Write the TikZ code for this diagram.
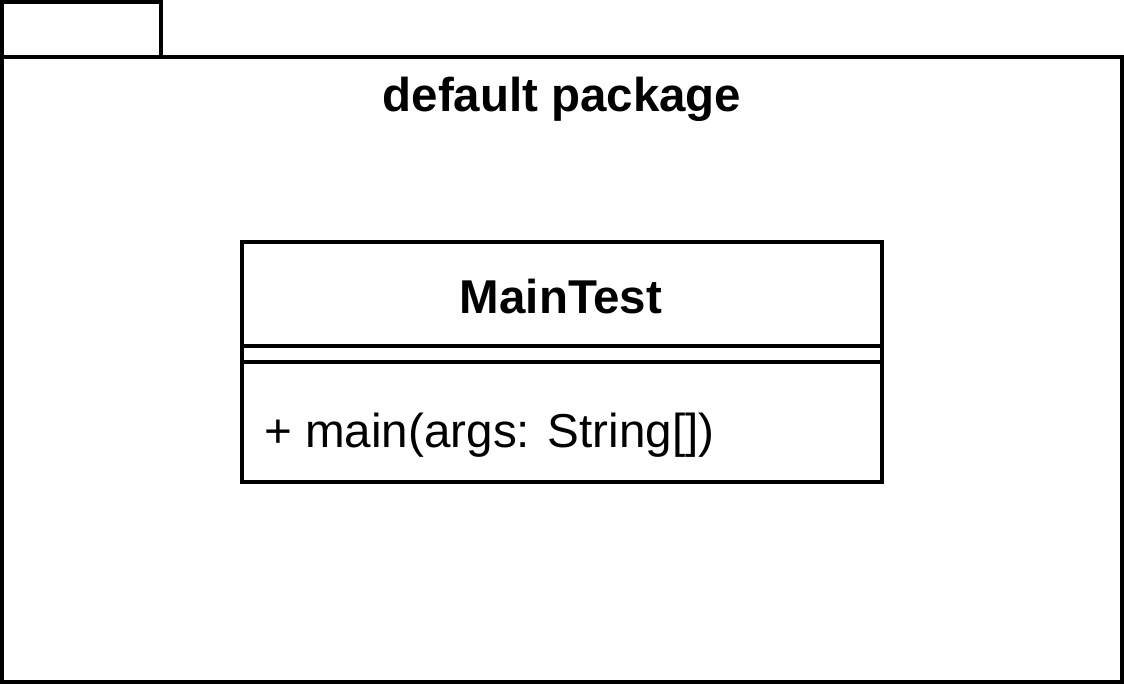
\documentclass[tikz,border=0pt]{standalone}
\usepackage{fontspec}
\setmainfont{Liberation Sans}
\begin{document}
\begin{tikzpicture}[x=0.75pt,y=-0.75pt,
  umlline/.style={draw=black,line width=2.4pt},
  boldlabel/.style={font=\fontsize{35.6}{42}\selectfont\bfseries,inner sep=0pt},
  plainlabel/.style={font=\fontsize{35.7}{42}\selectfont,inner sep=0pt}]
\useasboundingbox[fill=white] (0,0) rectangle (1124,684);
% package tab and body
\draw[umlline] (2,2) rectangle (161,57);
\draw[umlline] (2,57) rectangle (1122,682);
\node[boldlabel] (pkg) at (562,99) {default package};
% class box
\draw[umlline] (242,242) rectangle (882,482);
\draw[umlline] (242,346) -- (882,346);
\draw[umlline] (242,362) -- (882,362);
\node[boldlabel] (cls) at (561,297) {MainTest};
\node[plainlabel,anchor=west] (op) at (264,435) {+ main(args: String[])};
\end{tikzpicture}
\end{document}
